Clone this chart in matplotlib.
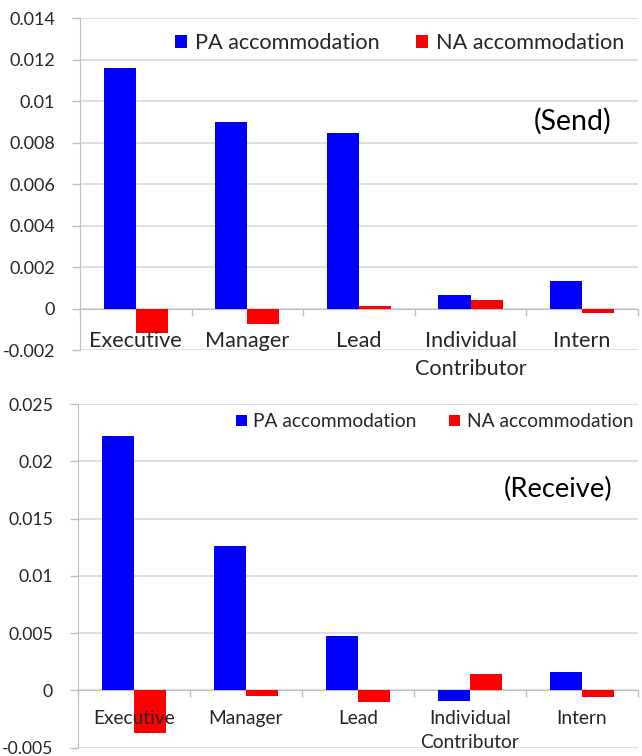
import numpy as np
import matplotlib
matplotlib.use("Agg")
from matplotlib import pyplot as plt
from matplotlib.ticker import FixedLocator

plt.rcParams['font.family'] = ['Lato', 'DejaVu Sans']

categories = ["Executive", "Manager", "Lead", "Individual\nContributor", "Intern"]

send_pa = [0.0116, 0.0090, 0.00847, 0.00066, 0.00132]
send_na = [-0.00116, -0.00076, 0.00014, 0.0004, -0.00021]
send_ticks = [-0.002, 0, 0.002, 0.004, 0.006, 0.008, 0.01, 0.012, 0.014]
send_ticklabels = ["-0.002", "0", "0.002", "0.004", "0.006", "0.008", "0.01", "0.012", "0.014"]

recv_pa = [0.0222, 0.01263, 0.00474, -0.0009, 0.0016]
recv_na = [-0.0037, -0.0005, -0.00105, 0.00145, -0.00056]
recv_ticks = [-0.005, 0, 0.005, 0.01, 0.015, 0.02, 0.025]
recv_ticklabels = ["-0.005", "0", "0.005", "0.01", "0.015", "0.02", "0.025"]

BLUE = "#0000ff"
RED = "#ff0000"
GRID = "#d9d9d9"
AXIS = "#bfbfbf"
TXT = "#262626"


def panel(ax, pa, na, ticks, ticklabels, title, yfs, fs, tfs, xpad, title_xy, legend_xy):
    x = np.arange(len(categories))
    w = 0.287
    ax.bar(x - w / 2, pa, w, color=BLUE, label="PA accommodation", zorder=3)
    ax.bar(x + w / 2, na, w, color=RED, label="NA accommodation", zorder=3)

    # spine first: moving it resets the ticks
    ax.spines['bottom'].set_position(('data', 0))
    ax.spines['bottom'].set_color(AXIS)
    ax.spines['left'].set_color(AXIS)
    ax.spines['top'].set_visible(False)
    ax.spines['right'].set_visible(False)

    ax.set_xlim(-0.5, len(categories) - 0.5)
    ax.set_ylim(ticks[0], ticks[-1])
    ax.set_yticks(ticks)
    ax.set_yticklabels(ticklabels, fontsize=yfs, color=TXT)
    ax.yaxis.grid(True, color=GRID, linewidth=1.2, zorder=0)
    ax.set_axisbelow(True)

    ax.set_xticks(x)
    ax.set_xticklabels(categories, fontsize=fs, color=TXT, linespacing=1.5)
    ax.xaxis.set_minor_locator(FixedLocator(np.arange(-0.5, len(categories), 1.0)))
    ax.tick_params(axis='x', which='major', length=0, pad=xpad)
    ax.tick_params(axis='x', which='minor', length=5, color=AXIS, width=1)
    ax.tick_params(axis='y', length=6, color=AXIS, width=1, pad=12)
    # category names sit on top of the bars, as in the source
    ax.xaxis.set_zorder(4)

    ax.text(title_xy[0], title_xy[1], title, transform=ax.transAxes,
            fontsize=tfs, color="black", ha='right', va='center')
    ax.legend(loc='center', bbox_to_anchor=legend_xy, ncol=2, frameon=False,
              fontsize=fs, handlelength=0.55, handleheight=0.55, handletextpad=0.35,
              columnspacing=1.7, labelcolor=TXT)


fig = plt.figure(figsize=(6.42, 7.56), dpi=100)

ax1 = fig.add_axes([0.1246, 0.537, 0.869, 0.439])
panel(ax1, send_pa, send_na, send_ticks, send_ticklabels, "(Send)", 13, 15.6, 20.5, 16,
      (0.953, 0.69), (0.573, 0.925))

ax2 = fig.add_axes([0.1215, 0.011, 0.872, 0.4546])
panel(ax2, recv_pa, recv_na, recv_ticks, recv_ticklabels, "(Receive)", 12.7, 13.8, 19.7, 14,
      (0.954, 0.75), (0.637, 0.948))

fig.savefig("out.png", dpi=100)
